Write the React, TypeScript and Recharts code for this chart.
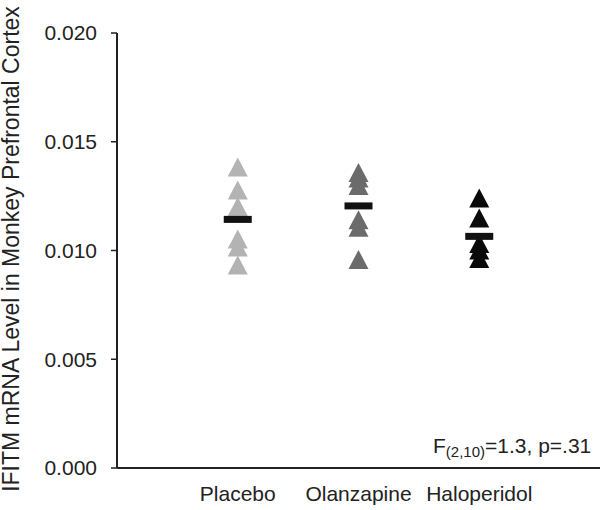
import { ScatterChart, Scatter, XAxis, YAxis, Label } from 'recharts';

// group names on the x axis
const categories = ['Placebo', 'Olanzapine', 'Haloperidol'];

// individual animals
const placebo = [0.01384, 0.01278, 0.01202, 0.01053, 0.01016, 0.00933];
const olanzapine = [0.01359, 0.01333, 0.01299, 0.01141, 0.01107, 0.00959];
const haloperidol = [0.01241, 0.01149, 0.01032, 0.01002, 0.00963];

// group means (black bars)
const means = [0.01143, 0.01205, 0.01065];

const yTicks = [0, 0.005, 0.01, 0.015, 0.02];

const toPoints = (vals: number[], group: number) => vals.map(v => ({ x: group, y: v }));

const FONT = '"Liberation Sans", Arial, sans-serif';

const triangle = (fill: string) => (props: any) => {
  const { cx, cy } = props;
  return (
    <polygon
      points={`${cx},${cy - 9.5} ${cx + 10},${cy + 9.5} ${cx - 10},${cy + 9.5}`}
      fill={fill}
    />
  );
};

const meanBar = (props: any) => {
  const { cx, cy } = props;
  return <rect x={cx - 14} y={cy - 3.5} width={28} height={7} fill="#111" />;
};

export default function App() {
  const meanData = means.map((m, i) => ({ x: i + 1, y: m }));

  return (
    <div style={{ position: 'absolute', left: 0, top: 0, width: 600, height: 510, fontFamily: FONT, background: '#fff' }}>
      <ScatterChart width={600} height={510} margin={{ top: 33, right: 0, bottom: 0, left: 0 }}>
        <XAxis
          type="number"
          dataKey="x"
          domain={[0, 4]}
          ticks={[1, 2, 3]}
          height={42}
          tickFormatter={(i: number) => categories[i - 1]}
          tickLine={false}
          tickMargin={12}
          axisLine={{ stroke: '#222', strokeWidth: 2 }}
          tick={{ fill: '#222', fontSize: 21, fontFamily: FONT }}
          interval={0}
        />
        <YAxis
          type="number"
          dataKey="y"
          domain={[0, 0.02]}
          ticks={yTicks}
          width={117}
          tickSize={6}
          tickMargin={14}
          tickFormatter={(v: number) => v.toFixed(3)}
          axisLine={{ stroke: '#222', strokeWidth: 2 }}
          tickLine={{ stroke: '#222', strokeWidth: 1.5 }}
          tick={{ fill: '#222', fontSize: 21, fontFamily: FONT }}
        >
          <Label
            content={() => (
              <text
                x={19}
                y={249}
                transform="rotate(-90 19 249)"
                textAnchor="middle"
                fill="#222"
                fontSize={23}
                fontFamily={FONT}
              >
                IFITM mRNA Level in Monkey Prefrontal Cortex
              </text>
            )}
          />
        </YAxis>
        <Scatter data={toPoints(placebo, 1)} shape={triangle('#b3b3b3')} isAnimationActive={false} />
        <Scatter data={toPoints(olanzapine, 2)} shape={triangle('#6b6b6b')} isAnimationActive={false} />
        <Scatter data={toPoints(haloperidol, 3)} shape={triangle('#0a0a0a')} isAnimationActive={false} />
        <Scatter data={meanData} shape={meanBar} isAnimationActive={false} />
      </ScatterChart>
      <div
        style={{
          position: 'absolute',
          left: 433,
          top: 434,
          fontSize: 21,
          color: '#222',
          whiteSpace: 'nowrap',
          lineHeight: '24px',
        }}
      >
        F<sub style={{ fontSize: 15, verticalAlign: -4 }}>(2,10)</sub>=1.3, p=.31
      </div>
    </div>
  );
}
